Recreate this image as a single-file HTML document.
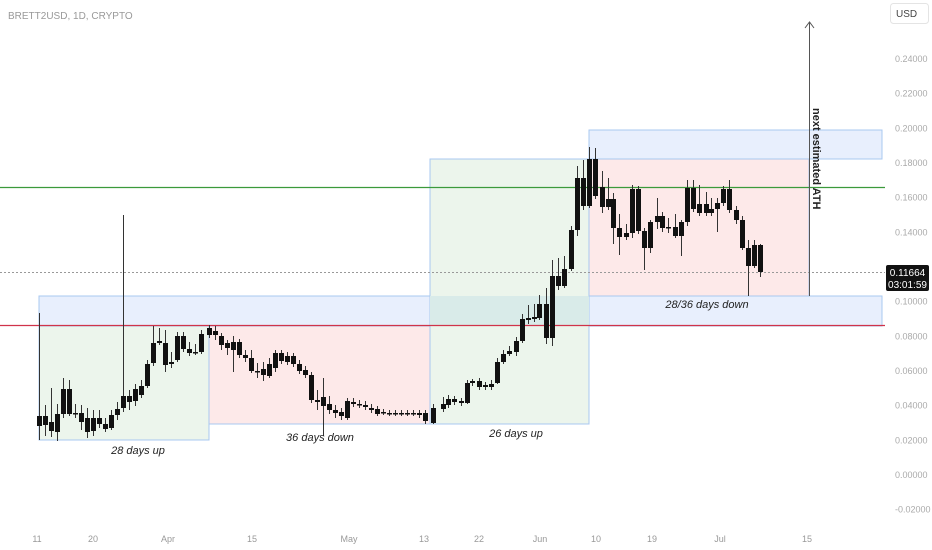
<!DOCTYPE html>
<html><head><meta charset="utf-8"><style>
html,body{margin:0;padding:0;background:#fff;}
svg{display:block;font-family:"Liberation Sans",sans-serif;}
</style></head><body>
<svg id="s" width="932" height="550" xmlns="http://www.w3.org/2000/svg">
<rect width="932" height="550" fill="#fff"/>
<rect x="39" y="296" width="843" height="30" fill="#e8effd" stroke="#a9c8f0" stroke-width="1"/>
<rect x="39" y="326" width="170" height="114" fill="#ecf5ec" stroke="#a9c8f0" stroke-width="1"/>
<rect x="209" y="326" width="221" height="98" fill="#fde9e9" stroke="#a9c8f0" stroke-width="1"/>
<rect x="430" y="159" width="159" height="265" fill="#ecf5ec" stroke="#a9c8f0" stroke-width="1"/>
<rect x="430" y="296" width="159" height="30" fill="#d9ebe9"/>
<rect x="589" y="130" width="293" height="29" fill="#e8effd" stroke="#a9c8f0" stroke-width="1"/>
<rect x="589" y="159" width="220" height="137" fill="#fde9e9" stroke="#a9c8f0" stroke-width="1"/>
<line x1="0" y1="325.5" x2="885" y2="325.5" stroke="#d0334a" stroke-width="1.2"/>
<line x1="0" y1="187.5" x2="885" y2="187.5" stroke="#3b9a3b" stroke-width="1.2"/>
<line x1="0" y1="272.5" x2="885" y2="272.5" stroke="#999" stroke-width="1" stroke-dasharray="2,2"/>
<line x1="809.5" y1="22" x2="809.5" y2="296" stroke="#555" stroke-width="1"/>
<polyline points="805,28 809.5,22 814,28" fill="none" stroke="#555" stroke-width="1"/>
<text transform="translate(813,108) rotate(90)" font-size="11" font-weight="bold" fill="#222">next estimated ATH</text>
<g id="c"></g>
<g font-size="11" font-style="italic" fill="#222" text-anchor="middle">
<text x="138" y="454">28 days up</text>
<text x="320" y="441">36 days down</text>
<text x="516" y="437">26 days up</text>
<text x="707" y="308">28/36 days down</text>
</g>
<text x="8" y="19" font-size="10" fill="#999">BRETT2USD, 1D, CRYPTO</text>
<rect x="890.5" y="3.5" width="38" height="20" rx="3" fill="#fff" stroke="#e4e4e4"/>
<text x="896" y="17" font-size="10" fill="#444">USD</text>
<g font-size="9" fill="#aaa" id="ax"></g>
<rect x="886" y="265" width="43" height="26" rx="2" fill="#111"/>
<text x="907.5" y="276" font-size="10" fill="#fff" text-anchor="middle">0.11664</text>
<text x="907.5" y="288" font-size="10" fill="#fff" text-anchor="middle">03:01:59</text>
<g font-size="9" fill="#999" text-anchor="middle">
<text x="37" y="542">11</text><text x="93" y="542">20</text><text x="168" y="542">Apr</text><text x="252" y="542">15</text><text x="349" y="542">May</text><text x="424" y="542">13</text><text x="479" y="542">22</text><text x="540" y="542">Jun</text><text x="596" y="542">10</text><text x="652" y="542">19</text><text x="720" y="542">Jul</text><text x="807" y="542">15</text>
</g>
</svg>
<script>
var d=[[39,416,426,313,440],[45,416,425,405,436],[51,422,431,388,437],[57,414,432,404,441],[63,389,414,378,418],[69,389,414,380,416],[75,413,414,404,418],[81,413,422,405,430],[87,418,432,408,438],[93,418,431,410,436],[99,418,424,410,428],[105,424,429,418,432],[111,415,428,410,430],[117,409,415,402,420],[123,396,408,215,412],[129,396,402,390,410],[135,389,401,384,406],[141,386,395,380,398],[147,364,386,360,388],[153,343,363,326,366],[159,341,343,328,345],[165,343,365,330,372],[171,362,364,352,368],[177,336,360,332,362],[183,336,349,332,352],[189,349,353,342,356],[195,352,353,344,355],[201,334,352,330,354],[209,328,335,325,338],[215,331,335,326,340],[221,336,345,333,350],[227,343,348,340,355],[233,342,350,336,372],[239,342,355,339,358],[245,355,358,350,362],[251,358,371,350,373],[257,371,372,363,378],[263,369,375,362,381],[269,364,376,358,378],[275,353,368,350,372],[281,353,361,350,364],[287,356,362,352,365],[293,356,364,353,367],[299,364,371,360,374],[305,370,375,366,378],[311,375,400,372,403],[317,400,402,390,410],[323,397,406,378,436],[329,404,410,396,414],[335,410,413,405,418],[341,412,416,408,420],[347,401,418,398,420],[353,402,404,398,407],[359,404,405,400,408],[365,405,407,401,410],[371,408,410,404,413],[377,409,414,406,416],[383,412,413,409,415],[389,413,414,410,416],[395,413,414,410,416],[401,413,414,410,416],[407,413,414,410,416],[413,413,414,410,416],[419,413,415,410,418],[425,413,421,410,424],[433,408,423,404,424],[443,404,409,397,412],[448,399,405,395,408],[454,399,402,396,405],[461,401,403,398,406],[467,383,403,380,404],[472,381,383,379,386],[479,381,387,378,390],[485,385,387,382,390],[491,384,387,380,390],[497,362,383,358,384],[503,354,362,350,364],[509,351,354,346,356],[516,341,352,337,356],[522,319,341,314,343],[528,318,320,305,324],[534,317,319,304,322],[539,304,318,295,320],[546,304,338,288,344],[552,276,338,260,346],[558,276,286,258,290],[564,269,286,256,288],[571,230,269,226,271],[577,178,230,166,236],[583,178,206,160,210],[589,159,206,147,208],[595,159,196,148,199],[602,187,207,171,213],[608,199,207,178,210],[613,199,228,193,244],[619,228,237,214,255],[626,233,237,224,240],[632,189,233,185,238],[638,189,231,186,234],[644,231,248,228,270],[650,222,248,220,253],[657,216,222,198,229],[662,216,228,212,232],[668,227,228,218,233],[675,227,236,214,238],[681,222,236,220,256],[687,188,222,180,226],[693,188,209,180,212],[699,204,213,185,216],[706,204,213,192,216],[711,209,213,198,216],[717,203,209,198,232],[723,189,203,186,206],[729,189,210,180,213],[736,210,220,206,224],[742,220,248,216,250],[748,248,266,240,296],[754,245,266,240,268],[760,245,272,244,277]];
var g=document.getElementById('c'),h='';
d.forEach(function(c){h+='<line x1="'+(c[0]+0.5)+'" y1="'+c[3]+'" x2="'+(c[0]+0.5)+'" y2="'+c[4]+'" stroke="#333" stroke-width="1"/>';var ht=Math.max(c[2]-c[1],1.5);h+='<rect x="'+(c[0]-2)+'" y="'+c[1]+'" width="5" height="'+ht+'" fill="#111"/>';});
g.innerHTML=h;
var ax=document.getElementById('ax'),a='';
for(var v=-0.02;v<=0.241;v+=0.02){var y=475-v*1733;if(Math.abs(y-272)<12)continue;a+='<text x="895" y="'+(y+3)+'">'+v.toFixed(5).replace('-0.00000','0.00000')+'</text>';}
ax.innerHTML=a;
</script>
</body></html>
